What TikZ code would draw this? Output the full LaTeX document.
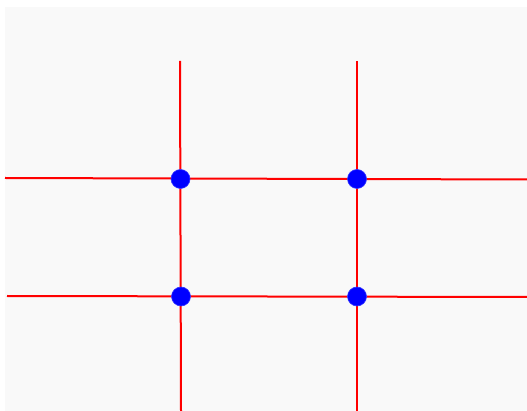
\documentclass[tikz,border=0pt]{standalone}
\definecolor{bgc}{RGB}{249,249,249}
\definecolor{dotc}{RGB}{0,0,255}
\tikzset{gridline/.style={draw=red,line width=2pt},
 dotnode/.style={circle,fill=dotc,draw=dotc!80!white,line width=0.6pt,minimum size=19pt,inner sep=0pt}}
\begin{document}
\begin{tikzpicture}[x=1pt,y=-1pt]
\useasboundingbox (0,0) rectangle (527,411);
\fill[white] (0,0) rectangle (527,411);
\fill[bgc] (5,7) rectangle (527,411);
\coordinate (v1t) at (180,61); \coordinate (v1b) at (181,411);
\coordinate (v2t) at (357,61); \coordinate (v2b) at (357,411);
\coordinate (h1l) at (5,178); \coordinate (h1r) at (527,179.5);
\coordinate (h2l) at (7,296); \coordinate (h2r) at (527,297);
\draw[gridline] (v1t) -- (v1b);
\draw[gridline] (v2t) -- (v2b);
\draw[gridline] (h1l) -- (h1r);
\draw[gridline] (h2l) -- (h2r);
\node[dotnode] (a) at (180.5,179) {};
\node[dotnode] (b) at (357,179) {};
\node[dotnode] (c) at (181,296.5) {};
\node[dotnode] (d) at (357,296.5) {};
\end{tikzpicture}
\end{document}
